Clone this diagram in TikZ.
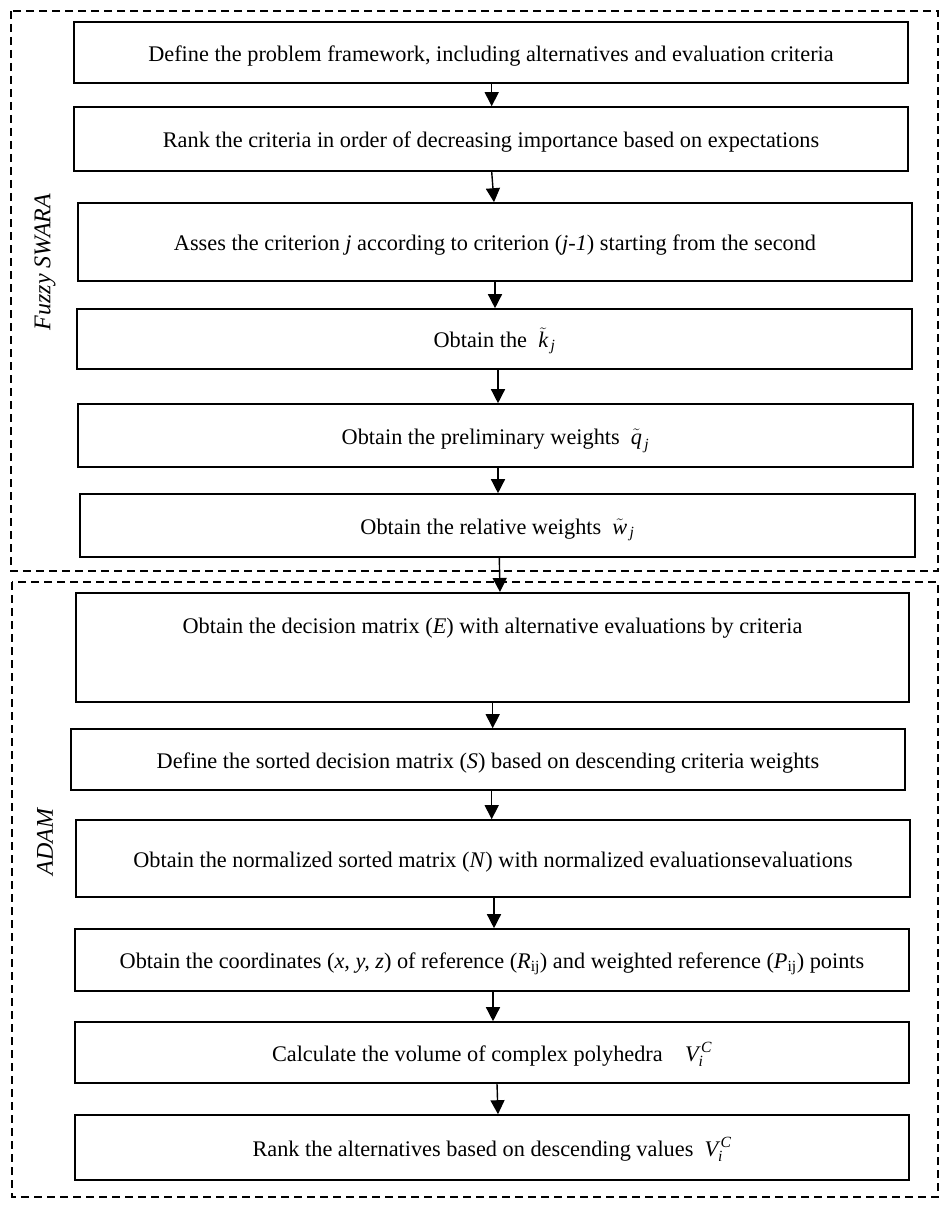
\documentclass[tikz,border=0pt]{standalone}
\usepackage{amsmath}
\usepackage{fontspec}
\setmainfont{Liberation Serif}
\usetikzlibrary{arrows.meta}
\newcommand{\itx}[1]{\text{\itshape #1}}
\begin{document}
\begin{tikzpicture}[x=1pt,y=-1pt,
  stepbox/.style={draw, line width=1.6pt, inner sep=0pt, minimum width=834pt, align=center,
    text height=22pt, text depth=4.5pt,
    font=\fontsize{22.3}{26}\selectfont},
  arr/.style={line width=1.4pt, -{Triangle[width=14pt,length=14pt]}},
  groupframe/.style={draw, line width=1.4pt, dash pattern=on 8pt off 5pt},
  grouplabel/.style={rotate=90, font=\fontsize{24}{28}\selectfont\itshape}]
\useasboundingbox (0,0) rectangle (951,1209);
% group frames
\draw[groupframe] (11,11) rectangle (938,571);
\draw[groupframe] (12,582) rectangle (938,1197);
\node[grouplabel] (lfs) at (45,262) {Fuzzy SWARA};
\node[grouplabel] (lad) at (45,842) {ADAM};
% steps
\node[stepbox, minimum height=61pt] (b1) at (491,52.5) {Define the problem framework, including alternatives and evaluation criteria};
\node[stepbox, minimum height=64pt] (b2) at (491,139) {Rank the criteria in order of decreasing importance based on expectations};
\node[stepbox, minimum height=78pt] (b3) at (495,242) {Asses the criterion \textit{j} according to criterion (\textit{j-1}) starting from the second};
\node[stepbox, minimum height=60pt, minimum width=835pt] (b4) at (494.5,339) {Obtain the~ $\tilde{\itx{k}}_{\,\itx{j}}$};
\node[stepbox, minimum height=63pt, minimum width=835pt] (b5) at (495.5,435.5) {Obtain the preliminary weights~ $\tilde{\itx{q}}_{\,\itx{j}}$};
\node[stepbox, minimum height=63pt, minimum width=835pt] (b6) at (497.5,525.5) {Obtain the relative weights~ $\tilde{\itx{w}}_{\,\itx{j}}$};
\node[stepbox, minimum width=833pt, text height=41pt, text depth=68pt, anchor=north] (b7) at (492.5,592) {Obtain the decision matrix (\textit{E}) with alternative evaluations by criteria};
\node[stepbox, minimum height=61pt] (b8) at (488,759.5) {Define the sorted decision matrix (\textit{S}) based on descending criteria weights};
\node[stepbox, minimum height=77pt] (b9) at (493,858.5) {Obtain the normalized sorted matrix (\textit{N}) with normalized evaluationsevaluations};
\node[stepbox, minimum height=62pt] (b10) at (492,960) {Obtain the coordinates (\textit{x, y, z}) of reference (\textit{R}\textsubscript{ij}) and weighted reference (\textit{P}\textsubscript{ij}) points};
\node[stepbox, minimum height=61pt] (b11) at (492,1052.5) {Calculate the volume of complex polyhedra~~~ $\itx{V}_{\itx{i}}^{\,\itx{C}}$};
\node[stepbox, minimum height=65pt] (b12) at (492,1147.5) {Rank the alternatives based on descending values~ $\itx{V}_{\itx{i}}^{\,\itx{C}}$};
% connectors
\draw[arr] ([xshift=0.7pt]b1.south) -- ([xshift=0.7pt]b2.north);
\draw[arr] ([xshift=0.7pt]b2.south) -- ([xshift=-1pt]b3.north);
\draw[arr] ([xshift=0pt]b3.south) -- ([xshift=0.5pt]b4.north);
\draw[arr] ([xshift=3.5pt]b4.south) -- ([xshift=2.5pt]b5.north);
\draw[arr] ([xshift=2.5pt]b5.south) -- ([xshift=0.5pt]b6.north);
\draw[arr] ([xshift=1.8pt]b6.south) -- ([xshift=7.5pt]b7.north);
\draw[arr] ([xshift=0.2pt]b7.south) -- ([xshift=4.7pt]b8.north);
\draw[arr] ([xshift=3.7pt]b8.south) -- ([xshift=-1.3pt]b9.north);
\draw[arr] ([xshift=1pt]b9.south) -- ([xshift=2pt]b10.north);
\draw[arr] ([xshift=1pt]b10.south) -- ([xshift=1pt]b11.north);
\draw[arr] ([xshift=5pt]b11.south) -- ([xshift=6pt]b12.north);
\end{tikzpicture}
\end{document}
